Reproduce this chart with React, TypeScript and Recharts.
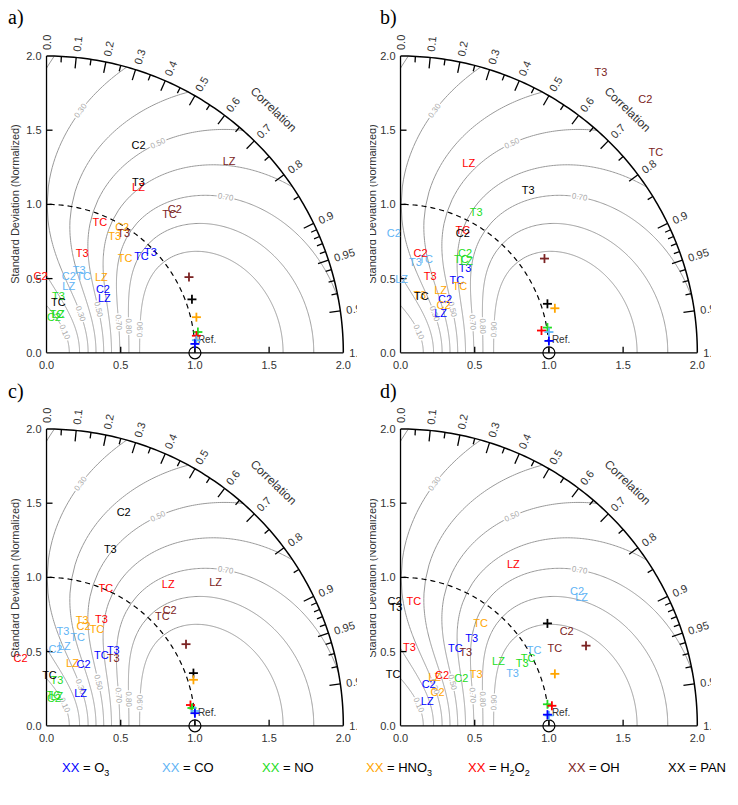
import { ScatterChart, Scatter, XAxis, YAxis } from "recharts";

const U = 148.4;
const XMIN = -0.3;
const XMAX = 2.09;
const TOP = 40;
const XAX_H = 20;

const colors: Record<string, string> = {
  O3: "#0000ff",
  CO: "#5fb4f5",
  NO: "#22dd22",
  HNO3: "#ffa500",
  H2O2: "#ff0000",
  OH: "#7b2323",
  PAN: "#000000",
};

// [species, model, std*cos, std*sin]
type Mark = [string, string, number, number];
type Cross = [string, number, number];

const labelsA: Mark[] = [
  ["O3", "TC", 0.64, 0.65], ["O3", "T3", 0.7, 0.68], ["O3", "C2", 0.38, 0.43], ["O3", "LZ", 0.39, 0.37],
  ["CO", "T3", 0.22, 0.56], ["CO", "C2", 0.15, 0.52], ["CO", "TC", 0.25, 0.52], ["CO", "LZ", 0.15, 0.45],
  ["NO", "T3", 0.08, 0.38], ["NO", "TC", 0.07, 0.26], ["NO", "LZ", 0.08, 0.26], ["NO", "C2", 0.05, 0.24],
  ["HNO3", "C2", 0.51, 0.85], ["HNO3", "T3", 0.46, 0.79], ["HNO3", "TC", 0.53, 0.64], ["HNO3", "LZ", 0.37, 0.51],
  ["H2O2", "LZ", 0.62, 1.12], ["H2O2", "TC", 0.36, 0.88], ["H2O2", "T3", 0.24, 0.67], ["H2O2", "C2", -0.04, 0.52],
  ["OH", "LZ", 1.23, 1.29], ["OH", "C2", 0.865, 0.97], ["OH", "TC", 0.83, 0.935], ["OH", "T3", 0.52, 0.81],
  ["PAN", "C2", 0.62, 1.4], ["PAN", "T3", 0.62, 1.15], ["PAN", "TC", 0.08, 0.34],
];
const crossesA: Cross[] = [
  ["OH", 0.96, 0.51], ["PAN", 0.98, 0.36], ["HNO3", 1.01, 0.24], ["NO", 1.02, 0.14],
  ["H2O2", 1.01, 0.115], ["CO", 1.01, 0.085], ["O3", 1.0, 0.06],
];

const labelsB: Mark[] = [
  ["O3", "T3", 0.435, 0.57], ["O3", "TC", 0.38, 0.49], ["O3", "C2", 0.3, 0.36], ["O3", "LZ", 0.27, 0.27],
  ["CO", "C2", -0.045, 0.81], ["CO", "T3", 0.1, 0.61], ["CO", "TC", 0.17, 0.635], ["CO", "LZ", 0.007, 0.5],
  ["NO", "T3", 0.51, 0.95], ["NO", "C2", 0.435, 0.675], ["NO", "TC", 0.41, 0.63], ["NO", "LZ", 0.445, 0.62],
  ["HNO3", "TC", 0.4, 0.45], ["HNO3", "LZ", 0.27, 0.42], ["HNO3", "C2", 0.29, 0.32], ["HNO3", "T3", 0.13, 0.39],
  ["H2O2", "LZ", 0.46, 1.28], ["H2O2", "TC", 0.42, 0.83], ["H2O2", "C2", 0.135, 0.67], ["H2O2", "T3", 0.2, 0.52],
  ["OH", "T3", 1.35, 1.89], ["OH", "C2", 1.65, 1.71], ["OH", "TC", 1.72, 1.35],
  ["PAN", "T3", 0.86, 1.1], ["PAN", "C2", 0.42, 0.81], ["PAN", "TC", 0.14, 0.38],
];
const crossesB: Cross[] = [
  ["OH", 0.97, 0.635], ["PAN", 0.99, 0.33], ["HNO3", 1.04, 0.3], ["H2O2", 0.95, 0.15],
  ["NO", 0.99, 0.17], ["CO", 1.0, 0.14], ["O3", 1.0, 0.08],
];

const labelsC: Mark[] = [
  ["O3", "T3", 0.45, 0.51], ["O3", "TC", 0.37, 0.48], ["O3", "C2", 0.25, 0.415], ["O3", "LZ", 0.23, 0.22],
  ["CO", "T3", 0.11, 0.64], ["CO", "TC", 0.21, 0.6], ["CO", "LZ", 0.12, 0.535], ["CO", "C2", 0.06, 0.52],
  ["NO", "T3", 0.07, 0.31], ["NO", "TC", 0.05, 0.21], ["NO", "LZ", 0.07, 0.2], ["NO", "C2", 0.05, 0.19],
  ["HNO3", "T3", 0.24, 0.71], ["HNO3", "C2", 0.25, 0.67], ["HNO3", "TC", 0.34, 0.65], ["HNO3", "LZ", 0.175, 0.42],
  ["H2O2", "TC", 0.4, 0.93], ["H2O2", "LZ", 0.82, 0.955], ["H2O2", "T3", 0.37, 0.72], ["H2O2", "C2", -0.175, 0.46],
  ["OH", "LZ", 1.14, 0.97], ["OH", "C2", 0.83, 0.78], ["OH", "TC", 0.78, 0.74], ["OH", "T3", 0.45, 0.46],
  ["PAN", "C2", 0.52, 1.44], ["PAN", "T3", 0.43, 1.19], ["PAN", "TC", 0.02, 0.34],
];
const crossesC: Cross[] = [
  ["OH", 0.94, 0.55], ["PAN", 0.99, 0.355], ["HNO3", 0.99, 0.31], ["H2O2", 0.97, 0.14],
  ["NO", 0.98, 0.12], ["CO", 1.0, 0.1], ["O3", 1.0, 0.085],
];

const labelsD: Mark[] = [
  ["O3", "T3", 0.48, 0.59], ["O3", "TC", 0.37, 0.525], ["O3", "C2", 0.19, 0.28], ["O3", "LZ", 0.18, 0.17],
  ["CO", "C2", 1.19, 0.91], ["CO", "LZ", 1.22, 0.87], ["CO", "TC", 0.9, 0.51], ["CO", "T3", 0.755, 0.355],
  ["NO", "LZ", 0.66, 0.44], ["NO", "TC", 0.86, 0.46], ["NO", "T3", 0.82, 0.42], ["NO", "C2", 0.41, 0.32],
  ["HNO3", "TC", 0.54, 0.69], ["HNO3", "T3", 0.51, 0.35], ["HNO3", "LZ", 0.23, 0.33], ["HNO3", "C2", 0.25, 0.225],
  ["H2O2", "TC", 0.09, 0.84], ["H2O2", "LZ", 0.76, 1.09], ["H2O2", "T3", 0.06, 0.53], ["H2O2", "C2", 0.28, 0.34],
  ["OH", "C2", 1.12, 0.64], ["OH", "TC", 1.04, 0.525], ["OH", "T3", 0.44, 0.5],
  ["PAN", "C2", -0.04, 0.84], ["PAN", "T3", -0.03, 0.8], ["PAN", "TC", -0.05, 0.35],
];
const crossesD: Cross[] = [
  ["PAN", 0.99, 0.69], ["OH", 1.25, 0.54], ["HNO3", 1.04, 0.35], ["NO", 0.99, 0.145],
  ["H2O2", 1.02, 0.135], ["CO", 1.0, 0.07], ["O3", 0.99, 0.075],
];

const skillLevels = [0.1, 0.2, 0.3, 0.4, 0.5, 0.6, 0.7, 0.8, 0.9];
// [level, branch, angle from x-axis in degrees]
const skillLabels: [number, "lo" | "hi", number][] = [
  [0.1, "lo", 49], [0.3, "lo", 49], [0.5, "lo", 40], [0.7, "lo", 23], [0.8, "lo", 18], [0.9, "lo", 14],
  [0.3, "hi", 82], [0.5, "hi", 62], [0.7, "hi", 41],
];
const corrMajor = [0.1, 0.2, 0.3, 0.4, 0.5, 0.6, 0.7, 0.8, 0.9, 0.95, 0.99];
const corrMinor = [0.05, 0.15, 0.25, 0.35, 0.45, 0.55, 0.65, 0.75, 0.85, 0.91, 0.92, 0.93, 0.94, 0.96, 0.97, 0.98];
const corrText = [0, 0.1, 0.2, 0.3, 0.4, 0.5, 0.6, 0.7, 0.8, 0.9, 0.95, 0.99, 1];
const stdTicks = [0, 0.5, 1, 1.5, 2];

const A = 1.19;
const NEXP = 1.9;
type P = { x: number; y: number; [k: string]: any };

function sigmas(S: number, R: number) {
  const k = Math.sqrt((A * Math.pow(1 + R, NEXP)) / S);
  const d = Math.sqrt(Math.max(0, k * k - 4));
  return { k, lo: (k - d) / 2, hi: (k + d) / 2 };
}

function contour(S: number): P[][] {
  const Rstar = Math.pow((4 * S) / A, 1 / NEXP) - 1;
  const closes = Rstar > 0;
  const tmax = closes ? Math.acos(Rstar) : Math.PI / 2;
  const lo: [number, number][] = [];
  const hi: [number, number][] = [];
  const N = 240;
  for (let i = 0; i <= N; i++) {
    const t = (tmax * i) / N;
    const s = sigmas(S, Math.cos(t));
    lo.push([t, s.lo]);
    hi.push([t, s.hi]);
  }
  const paths = closes ? [[...lo, ...hi.slice().reverse()]] : [lo, hi];
  const out: P[][] = [];
  for (const path of paths) {
    let seg: P[] = [];
    for (let i = 0; i < path.length; i++) {
      const [t, s] = path[i];
      if (s <= 2) {
        if (seg.length === 0 && i > 0 && path[i - 1][1] > 2) {
          const [t0, s0] = path[i - 1];
          const tt = t0 + (t - t0) * ((s0 - 2) / (s0 - s));
          seg.push({ x: 2 * Math.cos(tt), y: 2 * Math.sin(tt) });
        }
        seg.push({ x: s * Math.cos(t), y: s * Math.sin(t) });
      } else if (seg.length) {
        const [t0, s0] = path[i - 1];
        const tt = t0 + (t - t0) * ((2 - s0) / (s - s0));
        seg.push({ x: 2 * Math.cos(tt), y: 2 * Math.sin(tt) });
        out.push(seg);
        seg = [];
      }
    }
    if (seg.length > 1) out.push(seg);
  }
  return out;
}

const contourSegs = skillLevels.flatMap((s) => contour(s));

const contourLabelPts: P[] = skillLabels.map(([S, br, deg]) => {
  const t = (deg * Math.PI) / 180;
  const pt = (tt: number) => {
    const s = sigmas(S, Math.cos(tt))[br];
    return [s * Math.cos(tt), s * Math.sin(tt)];
  };
  const [x, y] = pt(t);
  const [x2, y2] = pt(t + 0.01);
  let a = (Math.atan2(y2 - y, x2 - x) * 180) / Math.PI;
  if (a > 90) a -= 180;
  if (a < -90) a += 180;
  return { x, y, rot: -a, text: S.toFixed(2) };
});

const arc = (r: number, n = 120): P[] =>
  Array.from({ length: n + 1 }, (_, i) => {
    const t = ((Math.PI / 2) * i) / n;
    return { x: r * Math.cos(t), y: r * Math.sin(t) };
  });

const polar = (R: number, extra: object = {}): P => {
  const t = Math.acos(R);
  return { x: 2 * Math.cos(t), y: 2 * Math.sin(t), deg: (t * 180) / Math.PI, ...extra };
};

const tickPts: P[] = [
  ...corrMajor.map((R) => polar(R, { len: 11 })),
  ...corrMinor.map((R) => polar(R, { len: 6 })),
].map((p) => ({ ...p, ang: p.deg + 180 }));
const axisTickPts: P[] = [
  ...[0.5, 1, 1.5].map((v) => ({ x: v, y: 0, ang: 90, len: 6 })),
  ...[0.5, 1, 1.5].map((v) => ({ x: 0, y: v, ang: 0, len: 6 })),
];
const corrLabelPts: P[] = corrText.map((R) => polar(R, { text: R.toFixed(R === 0.95 || R === 0.99 ? 2 : 1) }));
const yLabelPts: P[] = stdTicks.map((v) => ({ x: 0, y: v, text: v.toFixed(1) }));

const None = () => <g />;

const Seg = (p: any) => {
  const a = (p.payload.ang * Math.PI) / 180;
  return (
    <line x1={p.cx} y1={p.cy} x2={p.cx + Math.cos(a) * p.payload.len} y2={p.cy - Math.sin(a) * p.payload.len}
      stroke="#000" strokeWidth={1.3} />
  );
};

const CorrLabel = (p: any) => {
  const a = (p.payload.deg * Math.PI) / 180;
  const x = p.cx + Math.cos(a) * 6;
  const y = p.cy - Math.sin(a) * 6;
  return (
    <text x={x} y={y} transform={`rotate(${-p.payload.deg} ${x} ${y})`} fontSize={11} fill="#333"
      dominantBaseline="central" fontFamily="Liberation Sans">{p.payload.text}</text>
  );
};

const CorrTitle = (p: any) => {
  const a = (47 * Math.PI) / 180;
  const x = p.cx + Math.cos(a) * 36;
  const y = p.cy - Math.sin(a) * 36;
  return (
    <text x={x} y={y} transform={`rotate(44 ${x} ${y})`} fontSize={12} fill="#333" textAnchor="middle"
      dominantBaseline="central" fontFamily="Liberation Sans">Correlation</text>
  );
};

const YLabel = (p: any) => (
  <text x={p.cx - 5} y={p.cy} fontSize={11} fill="#333" textAnchor="end" dominantBaseline="central"
    fontFamily="Liberation Sans">{p.payload.text}</text>
);

const ContourLabel = (p: any) => (
  <text x={p.cx} y={p.cy} transform={`rotate(${p.payload.rot} ${p.cx} ${p.cy})`} fontSize={8} fill="#aaa"
    stroke="#fff" strokeWidth={3} paintOrder="stroke" textAnchor="middle" dominantBaseline="central"
    fontFamily="Liberation Sans">{p.payload.text}</text>
);

const TextMark = (p: any) => (
  <text x={p.cx} y={p.cy} fontSize={11} fill={colors[p.payload.sp]} textAnchor="middle" dominantBaseline="central"
    fontFamily="Liberation Sans">{p.payload.m}</text>
);

const CrossMark = (p: any) => (
  <g stroke={colors[p.payload.sp]} strokeWidth={1.8}>
    <line x1={p.cx - 4.5} y1={p.cy} x2={p.cx + 4.5} y2={p.cy} />
    <line x1={p.cx} y1={p.cy - 4.5} x2={p.cx} y2={p.cy + 4.5} />
  </g>
);

const RefMark = (p: any) => (
  <g>
    <circle cx={p.cx} cy={p.cy} r={6} fill="none" stroke="#000" strokeWidth={1.2} />
    <text x={p.cx + 3} y={p.cy - 13} fontSize={10} fill="#333" dominantBaseline="central"
      fontFamily="Liberation Sans">Ref.</text>
  </g>
);

function Panel({ labels, crosses, left, top }: { labels: Mark[]; crosses: Cross[]; left: number; top: number }) {
  const w = (XMAX - XMIN) * U;
  const h = TOP + 2 * U + XAX_H;
  const marks = labels.map(([sp, m, x, y]) => ({ sp, m, x, y }));
  const cr = crosses.map(([sp, x, y]) => ({ sp, x, y }));
  return (
    <div style={{ position: "absolute", left: left + XMIN * U, top: top - TOP }}>
      <ScatterChart width={w} height={h} margin={{ top: TOP, right: 0, bottom: 0, left: 0 }}>
        <XAxis type="number" dataKey="x" domain={[XMIN, XMAX]} ticks={stdTicks} axisLine={false} tickLine={false}
          height={XAX_H} tick={{ fontSize: 11, fill: "#333", fontFamily: "Liberation Sans" }}
          tickFormatter={(v: number) => v.toFixed(1)} />
        <YAxis type="number" dataKey="y" domain={[0, 2]} hide />
        {contourSegs.map((seg, i) => (
          <Scatter key={`c${i}`} data={seg} line={{ stroke: "#999", strokeWidth: 1 }} shape={None}
            isAnimationActive={false} />
        ))}
        <Scatter data={contourLabelPts} shape={ContourLabel} isAnimationActive={false} />
        <Scatter data={arc(1)} line={{ stroke: "#000", strokeWidth: 1.2, strokeDasharray: "5 4" }} shape={None}
          isAnimationActive={false} />
        <Scatter data={arc(2)} line={{ stroke: "#000", strokeWidth: 1.5 }} shape={None} isAnimationActive={false} />
        <Scatter data={[{ x: 0, y: 0 }, { x: 2, y: 0 }]} line={{ stroke: "#000", strokeWidth: 1.3 }} shape={None}
          isAnimationActive={false} />
        <Scatter data={[{ x: 0, y: 0 }, { x: 0, y: 2 }]} line={{ stroke: "#000", strokeWidth: 1.3 }} shape={None}
          isAnimationActive={false} />
        <Scatter data={tickPts} shape={Seg} isAnimationActive={false} />
        <Scatter data={axisTickPts} shape={Seg} isAnimationActive={false} />
        <Scatter data={corrLabelPts} shape={CorrLabel} isAnimationActive={false} />
        <Scatter data={[polar(Math.cos((47 * Math.PI) / 180))]} shape={CorrTitle} isAnimationActive={false} />
        <Scatter data={yLabelPts} shape={YLabel} isAnimationActive={false} />
        <Scatter data={[{ x: 1, y: 0 }]} shape={RefMark} isAnimationActive={false} />
        <Scatter data={marks} shape={TextMark} isAnimationActive={false} />
        <Scatter data={cr} shape={CrossMark} isAnimationActive={false} />
      </ScatterChart>
    </div>
  );
}

const panels = [
  { id: "a)", labels: labelsA, crosses: crossesA, left: 46.7, top: 56, lx: 8, ly: 6, clipL: 0, cx: 15 },
  { id: "b)", labels: labelsB, crosses: crossesB, left: 400.7, top: 56, lx: 380, ly: 6, clipL: 370, cx: 2 },
  { id: "c)", labels: labelsC, crosses: crossesC, left: 46.7, top: 429.3, lx: 8, ly: 380, clipL: 0, cx: 15 },
  { id: "d)", labels: labelsD, crosses: crossesD, left: 400.7, top: 429.3, lx: 380, ly: 380, clipL: 370, cx: 2 },
];

const legend: [string, string, string | null][] = [
  ["O3", "O", "3"], ["CO", "CO", null], ["NO", "NO", null], ["HNO3", "HNO", "3"],
  ["H2O2", "H", null], ["OH", "OH", null], ["PAN", "PAN", null],
];
const legendX = [62, 162, 262, 366, 468, 568, 668];

export default function App() {
  return (
    <div style={{ position: "absolute", left: 0, top: 0, width: 738, height: 805, background: "#fff", overflow: "hidden" }}>
      {panels.map((p) => (
        <div key={p.id}>
          <Panel labels={p.labels} crosses={p.crosses} left={p.left} top={p.top} />
          <div style={{ position: "absolute", left: p.lx, top: p.ly, fontFamily: "Liberation Serif", fontSize: 20 }}>{p.id}</div>
          <div style={{ position: "absolute", left: p.clipL, top: p.top, width: 26, height: 2 * U, overflow: "hidden" }}>
            <div style={{ position: "absolute", left: p.cx, top: U, transform: "translate(-50%,-50%) rotate(-90deg)",
              whiteSpace: "nowrap", fontFamily: "Liberation Sans", fontSize: 11, color: "#333" }}>
              Standard Deviation (Normalized)
            </div>
          </div>
        </div>
      ))}
      {legend.map(([sp, base, sub], i) => (
        <div key={sp} style={{ position: "absolute", left: legendX[i], top: 760, fontFamily: "Liberation Sans", fontSize: 13, whiteSpace: "nowrap" }}>
          <span style={{ color: colors[sp] }}>XX</span> = {sp === "H2O2" ? (<>H<sub style={{ fontSize: 9 }}>2</sub>O<sub style={{ fontSize: 9 }}>2</sub></>) : (<>{base}{sub && <sub style={{ fontSize: 9 }}>{sub}</sub>}</>)}
        </div>
      ))}
    </div>
  );
}
